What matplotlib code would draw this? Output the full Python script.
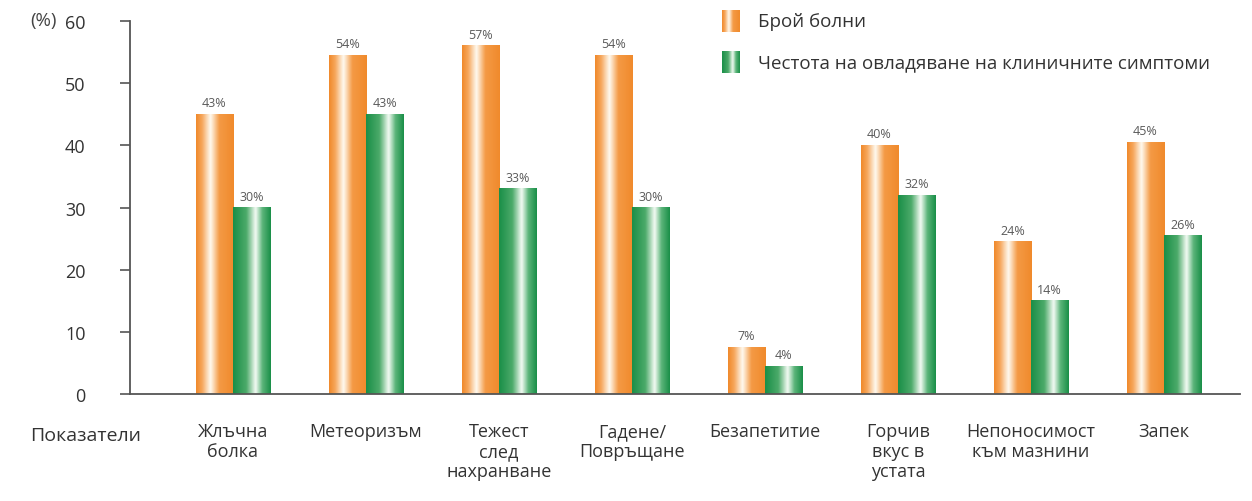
import matplotlib.pyplot as plt
import numpy as np
from matplotlib.colors import LinearSegmentedColormap

plt.rcParams['font.family'] = ['Open Sans', 'DejaVu Sans']

categories = ['Жлъчна\nболка', 'Метеоризъм', 'Тежест\nслед\nнахранване', 'Гадене/\nПовръщане',
              'Безапетитие', 'Горчив\nвкус в\nустата', 'Непоносимост\nкъм мазнини', 'Запек']
patients = [45, 54.5, 56, 54.5, 7.5, 40, 24.5, 40.5]
control = [30, 45, 33, 30, 4.5, 32, 15, 25.5]
patients_labels = ['43%', '54%', '57%', '54%', '7%', '40%', '24%', '45%']
control_labels = ['30%', '43%', '33%', '30%', '4%', '32%', '14%', '26%']
series_names = ['Брой болни', 'Честота на овладяване на клиничните симптоми']

orange_cmap = LinearSegmentedColormap.from_list(
    'og', [(0, '#f08a2c'), (0.15, '#f6a559'), (0.38, '#fffaf0'), (0.62, '#f49a45'), (1, '#f08a2c')])
green_cmap = LinearSegmentedColormap.from_list(
    'gr', [(0, '#1a8f48'), (0.35, '#4caa6a'), (0.6, '#f4fbf4'), (0.78, '#5cb57a'), (1, '#1a8f48')])
grad = np.linspace(0, 1, 64).reshape(1, -1)


def fill_gradient(ax, bars, cmap):
    for b in bars:
        x0, w, h = b.get_x(), b.get_width(), b.get_height()
        ax.imshow(grad, cmap=cmap, extent=[x0, x0 + w, 0, h], aspect='auto',
                  interpolation='bicubic', zorder=2)


fig = plt.figure(figsize=(12.52, 5.02), dpi=100)
ax = fig.add_axes([130 / 1252, 107 / 502, 1110 / 1252, 373 / 502])

x = np.arange(len(categories))
w = 0.28
b1 = ax.bar(x - w / 2, patients, w, color='none', zorder=1)
b2 = ax.bar(x + w / 2, control, w, color='none', zorder=1)
fill_gradient(ax, b1, orange_cmap)
fill_gradient(ax, b2, green_cmap)

for b, t in zip(b1, patients_labels):
    ax.text(b.get_x() + b.get_width() / 2, b.get_height() + 0.8, t, ha='center', va='bottom',
            fontsize=9, color='#5a5a5a')
for b, t in zip(b2, control_labels):
    ax.text(b.get_x() + b.get_width() / 2, b.get_height() + 0.8, t, ha='center', va='bottom',
            fontsize=9, color='#5a5a5a')

ax.set_xlim(-0.774, 7.57)
ax.set_ylim(0, 60)
ax.set_yticks(range(0, 61, 10))
ax.set_xticks(x)
ax.set_xticklabels(categories, fontsize=13, color='#333333', linespacing=1.15, va='top')
ax.tick_params(axis='x', length=0, pad=20)
ax.tick_params(axis='y', direction='out', length=7, width=1.2, color='#555555',
               labelsize=13, labelcolor='#333333', pad=25)
for s in ['top', 'right']:
    ax.spines[s].set_visible(False)
for s in ['left', 'bottom']:
    ax.spines[s].set_color('#555555')
    ax.spines[s].set_linewidth(1.3)

fig.text(30 / 1252, 1 - 436 / 502, 'Показатели', fontsize=14, color='#333333', va='center')
fig.text(30 / 1252, 1 - 21 / 502, '(%)', fontsize=13.5, color='#444444', va='center')

# legend swatches
for i, (name, cmap) in enumerate(zip(series_names, [orange_cmap, green_cmap])):
    yc = 22 + i * 41
    lax = fig.add_axes([722 / 1252, 1 - (yc + 11) / 502, 18 / 1252, 22 / 502])
    lax.imshow(grad, cmap=cmap, aspect='auto', interpolation='bicubic')
    lax.axis('off')
    fig.text(758 / 1252, 1 - yc / 502, name, fontsize=13.5, color='#333333', va='center')

fig.savefig('out.png', dpi=100)
